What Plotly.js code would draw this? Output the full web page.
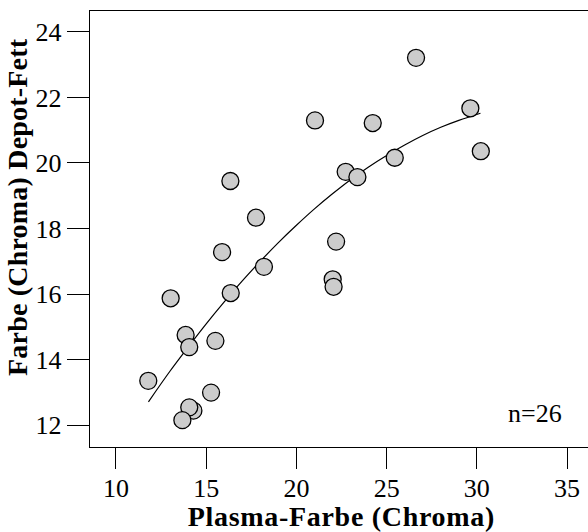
<!DOCTYPE html>
<html>
<head>
<meta charset="utf-8">
<script src="https://cdn.plot.ly/plotly-3.0.1.min.js"></script>
<style>
html,body{margin:0;padding:0;background:#fff;}
#chart{width:588px;height:532px;}
#chart g.annotation[data-index="0"] text { letter-spacing: 0.7px; }
#chart g.annotation[data-index="1"] text { letter-spacing: 0.2px; }
</style>
</head>
<body>
<div id="chart"></div>
<script>
// Scatter data
var plasmaChroma = [26.63, 21.03, 24.23, 29.64, 30.22, 25.45, 22.73, 23.38, 16.34, 17.76,
                    15.88, 22.20, 18.20, 22.01, 22.06, 16.36, 13.03, 13.86, 14.06, 15.51,
                    11.79, 15.27, 14.29, 14.06, 13.68];
var depotChroma  = [23.21, 21.30, 21.22, 21.67, 20.36, 20.16, 19.73, 19.57, 19.45, 18.33,
                    17.28, 17.60, 16.83, 16.45, 16.22, 16.03, 15.87, 14.75, 14.38, 14.57,
                    13.35, 12.99, 12.44, 12.54, 12.15];

// Fitted curve
var curveX = [11.8, 13, 14, 15, 16, 17, 18, 19, 20, 21, 22, 23, 24, 25, 26, 27, 28, 29, 30.2];
var curveY = [12.71, 13.65, 14.38, 15.09, 15.76, 16.40, 17.00, 17.57, 18.10, 18.60,
              19.06, 19.49, 19.88, 20.23, 20.55, 20.84, 21.09, 21.30, 21.52];

var xTicks = [10, 15, 20, 25, 30, 35];
var yTicks = [12, 14, 16, 18, 20, 22, 24];

var xTitle = "Plasma-Farbe (Chroma)";
var yTitle = "Farbe (Chroma) Depot-Fett";
var nLabel = "n=26";

var serif = "Liberation Serif";

var traces = [
  {
    x: curveX, y: curveY, type: "scatter", mode: "lines",
    line: {color: "#000", width: 1.2, shape: "spline"},
    hoverinfo: "skip"
  },
  {
    x: plasmaChroma, y: depotChroma, type: "scatter", mode: "markers",
    marker: {symbol: "circle", size: 17, color: "#cccccc", line: {color: "#000", width: 1.3}}
  }
];

var layout = {
  width: 588, height: 532,
  margin: {l: 90, r: 0, t: 11, b: 85},
  paper_bgcolor: "#fff", plot_bgcolor: "#fff",
  showlegend: false,
  font: {family: serif, color: "#000", size: 24},
  xaxis: {
    range: [8.56, 36.16], tickvals: xTicks, ticktext: xTicks.map(String),
    ticks: "outside", ticklen: 21, tickwidth: 1, tickcolor: "#000",
    ticklabelstandoff: -4,
    showline: true, linecolor: "#000", linewidth: 1.3, mirror: true,
    showgrid: false, zeroline: false,
    tickfont: {family: serif, size: 26, color: "#000"}
  },
  yaxis: {
    range: [11.33, 24.64], tickvals: yTicks, ticktext: yTicks.map(String),
    ticks: "outside", ticklen: 22, tickwidth: 1, tickcolor: "#000",
    showline: true, linecolor: "#000", linewidth: 1.3, mirror: false,
    showgrid: false, zeroline: false,
    tickfont: {family: serif, size: 26, color: "#000"}
  },
  annotations: [
    {text: xTitle, xref: "paper", yref: "paper", x: 0.506, y: -0.159,
     xanchor: "center", yanchor: "middle", showarrow: false,
     font: {family: serif, size: 28, weight: "bold", color: "#000"}},
    {text: yTitle, xref: "paper", yref: "paper", x: -0.1456, y: 0.5505,
     xanchor: "center", yanchor: "middle", showarrow: false, textangle: -90,
     font: {family: serif, size: 28, weight: "bold", color: "#000"}},
    {text: nLabel, xref: "x", yref: "y", x: 33.21, y: 12.34,
     xanchor: "center", yanchor: "middle", showarrow: false,
     font: {family: serif, size: 26, color: "#000"}}
  ]
};

Plotly.newPlot("chart", traces, layout, {displayModeBar: false, staticPlot: true}).then(function () {
  var labels = document.querySelectorAll("#chart .xtick text, #chart .ytick text");
  for (var i = 0; i < labels.length; i++) {
    labels[i].style.fontFamily = "'Liberation Serif', serif";
    labels[i].style.fontSize = "26px";
  }
});
</script>
</body>
</html>
